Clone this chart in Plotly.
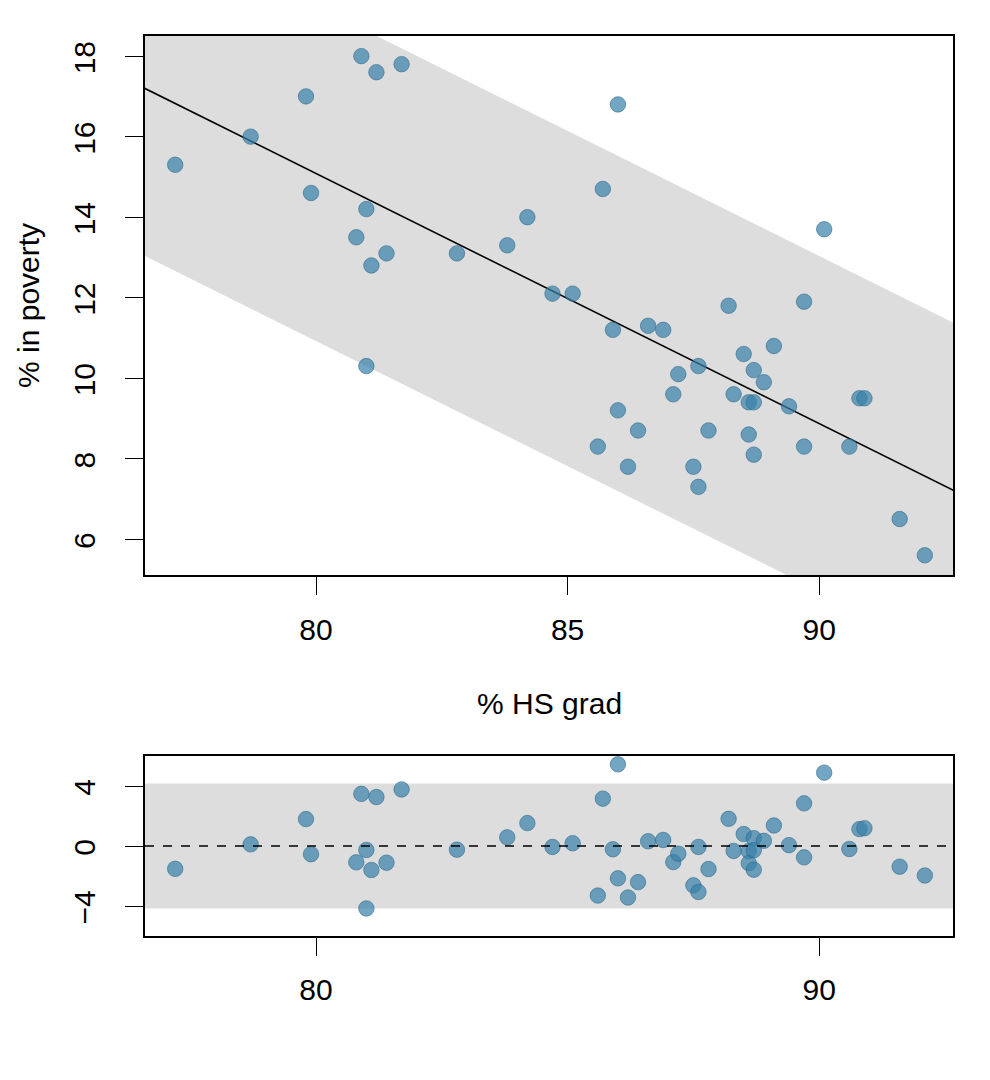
import numpy as np
import plotly.graph_objects as go

# % HS grad (x) and % in poverty (y) for the 51 states
hs_grad = [77.2, 78.7, 79.8, 79.9, 80.9, 81.2, 81.7, 81.0, 80.8, 81.1,
           81.4, 81.0, 82.8, 83.8, 84.2, 84.7, 85.1, 86.0, 85.7, 85.9,
           85.6, 86.0, 86.2, 86.4, 86.6, 86.9, 87.1, 87.2, 87.5, 87.6,
           87.6, 87.8, 88.2, 88.3, 88.5, 88.6, 88.6, 88.7, 88.7, 88.7,
           88.9, 89.1, 89.4, 89.7, 89.7, 90.1, 90.6, 90.8, 90.9, 91.6,
           92.1]
poverty = [15.3, 16.0, 17.0, 14.6, 18.0, 17.6, 17.8, 14.2, 13.5, 12.8,
           13.1, 10.3, 13.1, 13.3, 14.0, 12.1, 12.1, 16.8, 14.7, 11.2,
           8.3, 9.2, 7.8, 8.7, 11.3, 11.2, 9.6, 10.1, 7.8, 10.3,
           7.3, 8.7, 11.8, 9.6, 10.6, 9.4, 8.6, 10.2, 9.4, 8.1,
           9.9, 10.8, 9.3, 11.9, 8.3, 13.7, 8.3, 9.5, 9.5, 6.5,
           5.6]

x_ticks_top = [80, 85, 90]
y_ticks_top = [6, 8, 10, 12, 14, 16, 18]
x_ticks_res = [80, 90]
y_ticks_res = [-4, 0, 4]

x = np.array(hs_grad)
y = np.array(poverty)
slope, intercept = np.polyfit(x, y, 1)
fitted = intercept + slope * x
resid = y - fitted
band = 2 * np.sqrt(np.sum(resid ** 2) / (len(x) - 2))

X_RANGE = [76.6, 92.66]
xb = np.array([75.0, 94.0])
band_x = list(xb) + list(xb[::-1])
band_y = list(intercept + slope * xb + band) + list((intercept + slope * xb - band)[::-1])

PT_COLOR = "rgba(55,128,170,0.70)"
PT_LINE = "rgba(40,100,135,0.55)"
GRAY = "#DDDDDD"
FONT = "Liberation Sans, Arial, Helvetica, sans-serif"
FS = 30

fig = go.Figure()
fig.add_trace(go.Scatter(x=band_x, y=band_y, fill="toself", fillcolor=GRAY,
                         line=dict(width=0), mode="lines", hoverinfo="skip",
                         xaxis="x", yaxis="y", showlegend=False))
fig.add_trace(go.Scatter(x=list(xb), y=list(intercept + slope * xb), mode="lines",
                         line=dict(color="black", width=1.6),
                         xaxis="x", yaxis="y", showlegend=False))
fig.add_trace(go.Scatter(x=hs_grad, y=poverty, mode="markers",
                         marker=dict(size=15.5, color=PT_COLOR, line=dict(color=PT_LINE, width=1)),
                         xaxis="x", yaxis="y", showlegend=False, cliponaxis=True))
fig.add_trace(go.Scatter(x=hs_grad, y=list(resid), mode="markers",
                         marker=dict(size=15.5, color=PT_COLOR, line=dict(color=PT_LINE, width=1)),
                         xaxis="x2", yaxis="y2", showlegend=False))

fig.add_shape(type="rect", xref="x2 domain", yref="y2", x0=0, x1=1, y0=-band, y1=band,
              fillcolor=GRAY, line=dict(width=0), layer="below")
fig.add_shape(type="line", xref="x2 domain", yref="y2", x0=0, x1=1, y0=0, y1=0,
              line=dict(color="black", width=1.6, dash="dash"))

axis_common = dict(showline=True, linecolor="black", linewidth=1.6, mirror=True,
                   showgrid=False, zeroline=False, ticks="outside", ticklen=18,
                   tickwidth=1.4, tickcolor="black",
                   tickfont=dict(family=FONT, size=FS, color="black"))

fig.update_layout(
    width=990, height=1080,
    margin=dict(l=137, r=45, t=28, b=152),
    paper_bgcolor="white", plot_bgcolor="white",
    font=dict(family=FONT, size=FS, color="black"),
    xaxis=dict(domain=[0, 1], range=X_RANGE, anchor="y", tickvals=x_ticks_top,
               ticklabelstandoff=9, **axis_common),
    yaxis=dict(domain=[0.4011, 1.0], range=[5.11, 18.5], anchor="x", tickvals=y_ticks_top,
               tickangle=-90, ticklabelstandoff=18, ticklabelshift=6, **axis_common),
    xaxis2=dict(domain=[0, 1], range=X_RANGE, anchor="y2", tickvals=x_ticks_res,
                ticklabelstandoff=8, **axis_common),
    yaxis2=dict(domain=[0, 0.2], range=[-6, 6], anchor="x2", tickvals=y_ticks_res,
                tickangle=-90, ticklabelstandoff=18, ticklabelshift=6, **axis_common),
    annotations=[
        dict(text="% HS grad", xref="paper", yref="paper", x=0.5, y=(936 - 703) / 900,
             showarrow=False, font=dict(family=FONT, size=FS, color="black"),
             xanchor="center", yanchor="middle"),
        dict(text="% in poverty", xref="paper", yref="paper", x=(28 - 145) / 808,
             y=(936 - 306) / 900, textangle=-90, showarrow=False,
             font=dict(family=FONT, size=FS, color="black"),
             xanchor="center", yanchor="middle"),
    ],
)

fig.write_html("out.html")
